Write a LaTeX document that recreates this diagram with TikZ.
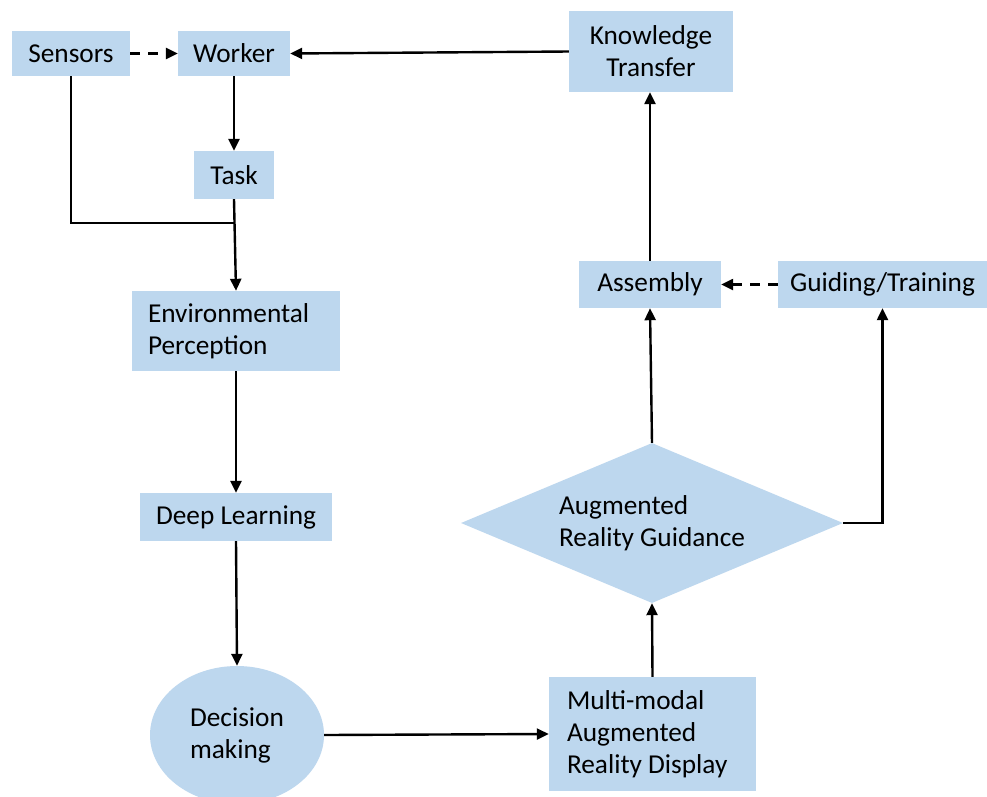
\documentclass[tikz,border=0pt]{standalone}
\usepackage{fontspec}
\setmainfont{Carlito}
\usetikzlibrary{shapes.geometric,arrows.meta}
\definecolor{boxblue}{HTML}{BDD7EE}
\begin{document}
\begin{tikzpicture}[x=1pt,y=-1pt,
  box/.style={fill=boxblue,draw=none,inner sep=0pt,rectangle,
    font=\fontsize{27.3pt}{32pt}\selectfont},
  conn/.style={line width=2.4pt,-{Triangle[length=12pt,width=11pt]}},
  dconn/.style={conn,dash pattern=on 10pt off 8pt},
  plain/.style={line width=2.4pt}]
\useasboundingbox (0,0) rectangle (987,796);
\fill[white] (0,0) rectangle (987,796);
\node[box,minimum width=118,minimum height=45] (sensors) at (71,53.5) {Sensors};
\node[box,minimum width=112,minimum height=45] (worker) at (234,53.5) {Worker};
\node[box,minimum width=164,minimum height=81,align=center] (know) at (651,51.5) {Knowledge\\Transfer};
\node[box,minimum width=80,minimum height=48] (task) at (234,175) {Task};
\node[box,minimum width=208,minimum height=80,text width=176,inner xsep=16pt,align=flush left] (env) at (236,331) {Environmental\\Perception};
\node[box,minimum width=192,minimum height=48] (deep) at (236,517) {Deep Learning};
\node[box,ellipse,minimum width=174,minimum height=138,align=flush left] (dec) at (237,735) {Decision\\making};
\node[box,minimum width=207,minimum height=114,text width=171,inner xsep=18pt,align=flush left] (multi) at (652.5,734) {Multi-modal\\Augmented\\Reality Display};
\node[box,diamond,aspect=2.4,minimum width=382,minimum height=160,align=flush left] (arg) at (652,523) {Augmented\\Reality Guidance};
\node[box,minimum width=142,minimum height=47] (asm) at (650,284.5) {Assembly};
\node[box,minimum width=209,minimum height=47] (guide) at (882.5,284.5) {Guiding/Training};
\coordinate (j) at (234,223);
\draw[dconn] (sensors.east) -- (worker.west);
\draw[conn] (know.west) -- (worker.east);
\draw[conn] (worker.south) -- (task.north);
\draw[conn] (task.south) -- (env.north);
\draw[plain] (sensors.south) |- (j);
\draw[conn] (env.south) -- (deep.north);
\draw[conn] (deep.south) -- (dec.north);
\draw[conn] (dec.east) -- (multi.west);
\draw[conn] (multi.north) -- (arg.south);
\draw[conn] (arg.north) -- (asm.south);
\draw[conn] (asm.north) -- (asm.north |- know.south);
\draw[conn] (arg.east) -| (guide.south);
\draw[dconn] (guide.west) -- (asm.east);
\end{tikzpicture}
\end{document}
